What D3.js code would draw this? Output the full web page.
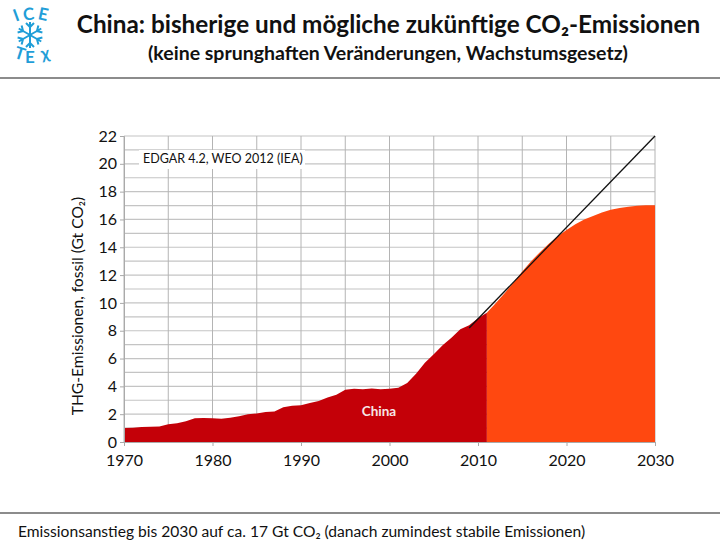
<!DOCTYPE html>
<html>
<head>
<meta charset="utf-8">
<script src="https://cdn.jsdelivr.net/npm/d3@7"></script>
<style>
  html, body { margin: 0; padding: 0; background: #fff; }
  svg { display: block; }
  text { font-family: Lato, "Noto Sans", sans-serif; fill: #111; }
</style>
</head>
<body>
<svg id="chart"></svg>
<script>
const W = 720, H = 550;

const HIST_YEARS = d3.range(1970, 2012);
const HIST_VALUES = [1.0,1.02,1.07,1.1,1.12,1.27,1.35,1.5,1.7,1.73,
                     1.7,1.67,1.75,1.85,2.0,2.05,2.15,2.2,2.5,2.6,
                     2.65,2.8,2.95,3.2,3.4,3.75,3.82,3.8,3.85,3.8,
                     3.82,3.9,4.25,4.9,5.7,6.3,6.95,7.5,8.1,8.4,
                     8.9,9.3];
const FUT_YEARS = d3.range(2011, 2031);
const FUT_VALUES = [9.3,9.98,10.7,11.45,12.25,13.0,13.65,14.25,14.8,15.25,
                    15.65,16.0,16.25,16.5,16.7,16.82,16.92,16.98,17.02,17.03];
const TREND_YEARS = [2009, 2030];
const TREND_VALUES = [8.2, 22];

const X_TICKS = [1970,1980,1990,2000,2010,2020,2030];
const X_GRID = d3.range(1970, 2031, 5);
const Y_TICKS = d3.range(0, 23, 2);
const Y_GRID = d3.range(0, 23, 1);

const svg = d3.select("#chart").attr("width", W).attr("height", H)
  .attr("viewBox", "0 0 " + W + " " + H);

const x = d3.scaleLinear().domain([1970, 2030]).range([124, 655]);
const y = d3.scaleLinear().domain([0, 22]).range([442, 136]);

// grid
svg.append("g").selectAll("line").data(Y_GRID).join("line")
  .attr("x1", x(1970)).attr("x2", x(2030))
  .attr("y1", d => y(d)).attr("y2", d => y(d))
  .attr("stroke", "#c4c4c4").attr("stroke-width", 1.2);
svg.append("g").selectAll("line").data(X_GRID).join("line")
  .attr("x1", d => x(d)).attr("x2", d => x(d))
  .attr("y1", y(0)).attr("y2", y(22))
  .attr("stroke", "#b4b4b4").attr("stroke-width", 1);

// areas
const area = d3.area().x(d => x(d[0])).y0(y(0)).y1(d => y(d[1]));
svg.append("path")
  .attr("d", area(d3.zip(FUT_YEARS, FUT_VALUES)))
  .attr("fill", "#ff4810");
svg.append("path")
  .attr("d", area(d3.zip(HIST_YEARS, HIST_VALUES)))
  .attr("fill", "#c40008");

// trend line
svg.append("path")
  .attr("d", d3.line().x(d => x(d[0])).y(d => y(d[1]))(d3.zip(TREND_YEARS, TREND_VALUES)))
  .attr("fill", "none").attr("stroke", "#111").attr("stroke-width", 1.3);

// axes
const xAxis = svg.append("g").attr("transform", "translate(0," + y(0) + ")")
  .call(d3.axisBottom(x).tickValues(X_TICKS).tickFormat(d3.format("d")).tickSize(4).tickPadding(9));
const yAxis = svg.append("g").attr("transform", "translate(" + x(1970) + ",0)")
  .call(d3.axisLeft(y).tickValues(Y_TICKS).tickSize(4).tickPadding(3));
[xAxis, yAxis].forEach(a => {
  a.select(".domain").attr("stroke", "#aaa");
  a.selectAll(".tick line").attr("stroke", "#aaa");
  a.selectAll("text").style("font-family", "Lato, sans-serif").style("font-size", "16px").attr("fill", "#111");
});

svg.append("text")
  .attr("transform", "translate(83,306) rotate(-90)")
  .attr("text-anchor", "middle").style("font-size", "15.6px")
  .text("THG-Emissionen, fossil (Gt CO₂)");

// source note with white box behind it
svg.append("rect").attr("x", 139).attr("y", 150).attr("width", 166).attr("height", 19).attr("fill", "#fff");
svg.append("text").attr("x", 143).attr("y", 163).style("font-size", "12.5px")
  .text("EDGAR 4.2, WEO 2012 (IEA)");

svg.append("text").attr("x", 379).attr("y", 416).attr("text-anchor", "middle")
  .style("font-size", "13.5px").style("font-weight", "700").style("fill", "#f6e6e6")
  .text("China");

// header
svg.append("text").attr("x", 388.5).attr("y", 33).attr("text-anchor", "middle")
  .style("font-size", "24.3px").style("font-weight", "700")
  .text("China: bisherige und mögliche zukünftige CO₂-Emissionen");
svg.append("text").attr("x", 388).attr("y", 60).attr("text-anchor", "middle")
  .style("font-size", "19.5px").style("font-weight", "700")
  .text("(keine sprunghaften Veränderungen, Wachstumsgesetz)");

// rules and footer
svg.append("line").attr("x1", 0).attr("x2", W).attr("y1", 78).attr("y2", 78).attr("stroke", "#666").attr("stroke-width", 1.3);
svg.append("line").attr("x1", 0).attr("x2", W).attr("y1", 513).attr("y2", 513).attr("stroke", "#666").attr("stroke-width", 1.3);
svg.append("text").attr("x", 18).attr("y", 537).style("font-size", "15.6px")
  .text("Emissionsanstieg bis 2030 auf ca. 17 Gt CO₂ (danach zumindest stabile Emissionen)");

// logo
const LOGO_BLUE = "#1f9ed8";
const LOGO_LETTERS = [
  { t: "I", x: 18, y: 21, r: -20 }, { t: "C", x: 29, y: 20, r: -5 }, { t: "E", x: 42, y: 20, r: 12 },
  { t: "T", x: 18, y: 59, r: 18 }, { t: "E", x: 30, y: 63, r: 0 }, { t: "χ", x: 46, y: 59, r: -10 }
];
const logo = svg.append("g");
logo.selectAll("text").data(LOGO_LETTERS).join("text")
  .attr("transform", d => "translate(" + d.x + "," + d.y + ") rotate(" + d.r + ")")
  .attr("text-anchor", "middle")
  .style("font-size", "17px").style("font-weight", "700").style("fill", LOGO_BLUE)
  .text(d => d.t);
const flake = logo.append("g").attr("transform", "translate(30,35)")
  .attr("stroke", LOGO_BLUE).attr("stroke-width", 2).attr("fill", "none");
d3.range(0, 360, 60).forEach(a => {
  const arm = flake.append("g").attr("transform", "rotate(" + a + ")");
  arm.append("path").attr("d", "M0 0V-13M-4 -12L0 -8L4 -12");
});
</script>
</body>
</html>
